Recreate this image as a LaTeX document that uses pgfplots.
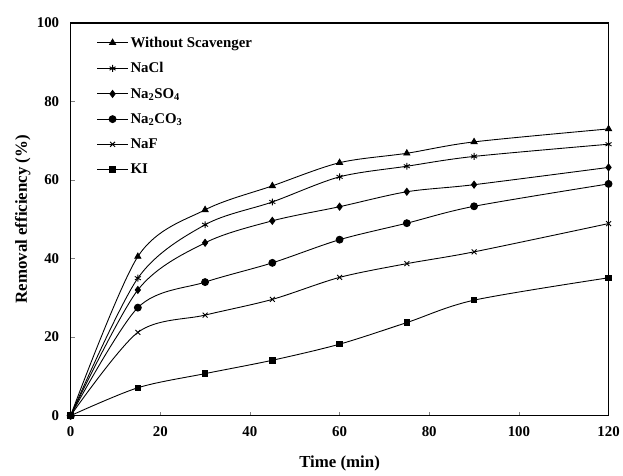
\documentclass[border=0pt]{standalone}
\usepackage{pgfplots}
\pgfplotsset{compat=1.18}
\usepackage{fontspec}
\setmainfont{Liberation Serif}
\begin{document}
\begin{tikzpicture}
\begin{axis}[
  scale only axis,
  width=541bp, height=395bp,
  at={(0,0)}, anchor=south west,
  xmin=0, xmax=120, ymin=0, ymax=100,
  xtick={0,20,...,120}, ytick={0,20,...,100},
  tick align=inside, major tick length=4bp,
  xtick pos=bottom, ytick pos=left,
  axis line style={line width=1.6pt},
  /pgf/number format/assume math mode=true,
  ticklabel style={font=\fontsize{15}{15}\selectfont\bfseries},
  yticklabel style={xshift=-8bp},
  xticklabel style={yshift=-8bp},
  xlabel={\textbf{Time (min)}},
  ylabel={\textbf{Removal efficiency (\%)}},
  every axis x label/.style={at={(axis description cs:0.5,-0.1215)}, anchor=center, font=\fontsize{17}{17}\selectfont\bfseries},
  every axis y label/.style={at={(axis description cs:-0.089,0.5)}, anchor=center, rotate=90, font=\fontsize{17}{17}\selectfont\bfseries},
  legend style={draw=none, fill=none, at={(axis description cs:0.048,0.97)}, anchor=north west,
    font=\fontsize{15}{15}\selectfont\bfseries, row sep=10bp,
    inner sep=0pt},
  legend cell align=left,
  legend image code/.code={\draw[mark repeat=2,mark phase=2] plot coordinates {(0cm,0cm) (0.55cm,0cm) (1.1cm,0cm)};},
  every axis plot/.append style={black, line width=0.9pt, smooth, tension=0.5, mark size=3.5pt},
  clip=false,
]
\addplot[mark=triangle*] coordinates {(0,0) (15,40.5) (30,52.4) (45,58.5) (60,64.4) (75,66.8) (90,69.7) (120,73.0)};
\addlegendentry{Without Scavenger}
\addplot[mark=asterisk] coordinates {(0,0) (15,35) (30,48.6) (45,54.4) (60,60.8) (75,63.5) (90,66.0) (120,69.1)};
\addlegendentry{NaCl}
\addplot[mark=diamond*] coordinates {(0,0) (15,32) (30,44) (45,49.6) (60,53.2) (75,57.0) (90,58.8) (120,63.2)};
\addlegendentry{Na$_\mathbf{2}$SO$_\mathbf{4}$}
\addplot[mark=*] coordinates {(0,0) (15,27.5) (30,34) (45,38.9) (60,44.8) (75,49.0) (90,53.3) (120,59.0)};
\addlegendentry{Na$_\mathbf{2}$CO$_\mathbf{3}$}
\addplot[mark=x] coordinates {(0,0) (15,21.2) (30,25.6) (45,29.6) (60,35.2) (75,38.7) (90,41.7) (120,48.9)};
\addlegendentry{NaF}
\addplot[mark=square*, mark size=2.8pt] coordinates {(0,0) (15,7.1) (30,10.7) (45,14.1) (60,18.2) (75,23.7) (90,29.4) (120,35.1)};
\addlegendentry{KI}
\end{axis}
\path (-71bp,-60bp) (552bp,418bp);
\end{tikzpicture}
\end{document}
